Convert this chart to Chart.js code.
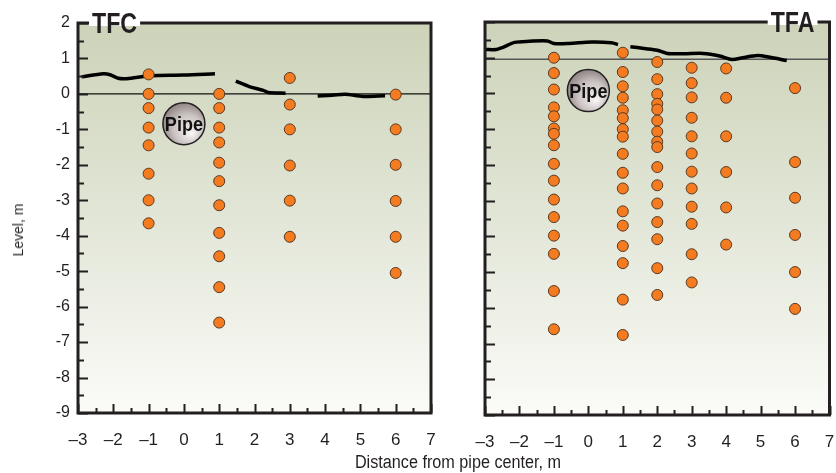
<!DOCTYPE html>
<html>
<head>
<meta charset="utf-8">
<script src="https://cdn.jsdelivr.net/npm/chart.js@4/dist/chart.umd.min.js"></script>
<style>
  html, body { margin: 0; padding: 0; background: #fff; }
  #wrap { position: relative; width: 836px; height: 473px; overflow: hidden; }
  #tfc { position: absolute; left: 0; top: 0; }
  #tfa { position: absolute; left: 440px; top: 0; }
  #xtitle {
    position: absolute; left: 458px; top: 462px; transform: translate(-50%, -50%) scaleX(0.9);
    font: 18px "Liberation Sans", Arial, sans-serif; color: #231f20; white-space: nowrap;
  }
  #ytitle {
    position: absolute; left: 18px; top: 230px; transform: translate(-50%, -50%) rotate(-90deg);
    font: 14px "Liberation Sans", Arial, sans-serif; color: #231f20; white-space: nowrap;
  }
</style>
</head>
<body>
<div id="wrap">
  <canvas id="tfc" width="450" height="473"></canvas>
  <canvas id="tfa" width="396" height="473"></canvas>
  <div id="ytitle">Level, m</div>
  <div id="xtitle">Distance from pipe center, m</div>
</div>
<script>
// --- data ---
const xTickLabels = ['\u20133', '\u20132', '\u20131', '0', '1', '2', '3', '4', '5', '6', '7'];
const yTickLabels = ['2', '1', '0', '-1', '-2', '-3', '-4', '-5', '-6', '-7', '-8', '-9'];

// TFC sensor columns (distance, m) and levels (m)
const tfcCols = [-1, 1, 3, 6];
const tfcLevels = [
  [0.55, 0, -0.4, -0.95, -1.45, -2.25, -3.0, -3.65],
  [0, -0.4, -0.95, -1.37, -1.94, -2.46, -3.14, -3.92, -4.58, -5.45, -6.45],
  [0.45, -0.3, -1.0, -2.02, -3.01, -4.03],
  [-0.02, -1.0, -2.0, -3.02, -4.03, -5.05]
];
// TFC water table segments
const tfcWaterX = [
  [-2.9, -2.28, -2.09, -1.86, -1.62, -0.96, 0, 0.88],
  [1.47, 1.87, 2.25, 2.39, 2.88],
  [3.79, 4.2, 4.56, 5.08, 5.7]
];
const tfcWaterY = [
  [0.48, 0.57, 0.54, 0.44, 0.43, 0.51, 0.53, 0.57],
  [0.36, 0.2, 0.1, 0.04, 0.02],
  [-0.06, -0.04, -0.01, -0.07, -0.05]
];
const tfcRefLevel = 0;
const tfcPipe = [0, -0.84];

// TFA sensor columns and levels
const tfaCols = [-1, 1, 2, 3, 4, 6];
const tfaLevels = [
  [1.0, 0.57, 0.11, -0.39, -0.64, -0.98, -1.13, -1.45, -1.97, -2.44, -2.97, -3.46, -3.98, -4.49, -5.53, -6.6],
  [1.14, 0.6, 0.2, -0.12, -0.47, -0.69, -1.0, -1.21, -1.69, -2.22, -2.66, -3.3, -3.7, -4.27, -4.75, -5.77, -6.76],
  [0.88, 0.4, -0.02, -0.29, -0.45, -0.76, -1.07, -1.35, -1.5, -2.06, -2.57, -3.08, -3.6, -4.08, -4.89, -5.64],
  [0.72, 0.29, -0.11, -0.68, -1.2, -1.68, -2.19, -2.66, -3.17, -3.65, -4.5, -5.29],
  [0.7, -0.12, -1.2, -2.2, -3.19, -4.23],
  [0.15, -1.92, -2.92, -3.96, -5.0, -6.03]
];
const tfaWaterX = [
  [-3, -2.67, -2.48, -2.14, -1.71, -1.19, -1.0, -0.57, 0.09, 0.67, 0.86],
  [1.22, 1.62, 2.0, 2.29, 2.76, 3.33, 3.81, 4.17, 4.48, 4.91, 5.24, 5.76]
];
const tfaWaterY = [
  [1.23, 1.23, 1.29, 1.43, 1.46, 1.47, 1.4, 1.4, 1.44, 1.42, 1.37],
  [1.31, 1.26, 1.21, 1.12, 1.11, 1.12, 1.05, 0.95, 1.0, 1.06, 1.02, 0.92]
];
const tfaRefLevel = 0.96;
const tfaPipe = [0, 0.08];

const INK = '#231f20';
const SANS = '"Liberation Sans", Arial, sans-serif';

function buildDatasets(cols, levels, wx, wy) {
  const pts = [];
  cols.forEach((c, i) => levels[i].forEach(v => pts.push({ x: c, y: v })));
  const sets = [{
    data: pts,
    pointRadius: 5.5,
    pointBackgroundColor: '#f47b20',
    pointBorderColor: '#5b3a20',
    pointBorderWidth: 1,
    showLine: false,
    order: 0
  }];
  wx.forEach((xs, i) => {
    sets.push({
      data: xs.map((x, j) => ({ x: x, y: wy[i][j] })),
      showLine: true,
      borderColor: '#000',
      borderWidth: 3.5,
      pointRadius: 0,
      tension: 0.3,
      order: 1
    });
  });
  return sets;
}

// draws condensed text by squeezing it horizontally
function narrowText(ctx, text, x, y, squeeze) {
  ctx.save();
  ctx.translate(x, y);
  ctx.scale(squeeze, 1);
  ctx.fillText(text, 0, 0);
  ctx.restore();
}

// background, reference line, pipe, frame, inward ticks, panel title
const panelPlugin = {
  id: 'panel',
  beforeDatasetsDraw(chart) {
    const { ctx, chartArea: a, scales: { x, y } } = chart;
    const o = chart.options.plugins.panel;
    const g = ctx.createLinearGradient(0, a.top, 0, a.bottom);
    g.addColorStop(0, '#cdd3b9');
    g.addColorStop(0.5, '#e2e6d7');
    g.addColorStop(1, '#fbfbf8');
    ctx.save();
    ctx.fillStyle = g;
    ctx.fillRect(a.left, a.top, a.right - a.left, a.bottom - a.top);
    const ry = y.getPixelForValue(o.ref);
    ctx.strokeStyle = o.refColor;
    ctx.lineWidth = o.refWidth;
    ctx.beginPath();
    ctx.moveTo(a.left, ry);
    ctx.lineTo(a.right, ry);
    ctx.stroke();
    ctx.restore();
  },
  afterDatasetsDraw(chart) {
    const { ctx, chartArea: a, scales: { x, y } } = chart;
    const o = chart.options.plugins.panel;
    ctx.save();
    // pipe
    const cx = x.getPixelForValue(o.pipe[0]), cy = y.getPixelForValue(o.pipe[1]), r = 21;
    const rg = ctx.createRadialGradient(cx + 8, cy + 10, 1, cx + 2, cy + 3, r + 3);
    rg.addColorStop(0, '#f7f3f3');
    rg.addColorStop(0.6, '#cbc3c2');
    rg.addColorStop(1, '#8e8584');
    ctx.fillStyle = rg;
    ctx.strokeStyle = INK;
    ctx.lineWidth = 1.5;
    ctx.beginPath();
    ctx.arc(cx, cy, r, 0, Math.PI * 2);
    ctx.fill();
    ctx.stroke();
    ctx.fillStyle = '#111';
    ctx.font = 'bold 21px ' + SANS;
    ctx.textAlign = 'left';
    ctx.textBaseline = 'alphabetic';
    const pw = ctx.measureText('Pipe').width * 0.86;
    narrowText(ctx, 'Pipe', cx - pw / 2, cy + 7, 0.86);

    // inward ticks
    ctx.strokeStyle = INK;
    ctx.lineWidth = 2;
    ctx.beginPath();
    for (let v = y.min; v <= y.max; v += 0.5) {
      const py = Math.round(y.getPixelForValue(v)) + 0.5;
      const len = Number.isInteger(v) ? 10 : 6;
      ctx.moveTo(a.left, py);
      ctx.lineTo(a.left + len, py);
    }
    for (let v = x.min; v <= x.max; v += 0.5) {
      const px = Math.round(x.getPixelForValue(v)) + 0.5;
      const len = Number.isInteger(v) ? 9 : 5;
      ctx.moveTo(px, a.bottom);
      ctx.lineTo(px, a.bottom - len);
    }
    ctx.stroke();

    // frame
    ctx.lineWidth = 3;
    ctx.strokeRect(a.left, a.top, a.right - a.left, a.bottom - a.top);

    // title over the top border
    ctx.font = 'bold 29px ' + SANS;
    const sq = 0.8;
    const w = ctx.measureText(o.title).width * sq;
    const tx = o.titleSide === 'left' ? a.left + 14 : a.right - 15 - w;
    ctx.fillStyle = '#fff';
    ctx.fillRect(tx - 3, a.top - 3, w + 6, 6);
    ctx.fillStyle = INK;
    narrowText(ctx, o.title, tx, a.top + 10, sq);
    ctx.restore();
  }
};

function makeChart(id, datasets, opts) {
  return new Chart(document.getElementById(id), {
    type: 'scatter',
    data: { datasets: datasets },
    plugins: [panelPlugin],
    options: {
      responsive: false,
      animation: false,
      events: [],
      layout: { padding: { top: opts.top, right: opts.right, left: 0, bottom: 0 } },
      plugins: {
        legend: { display: false },
        tooltip: { enabled: false },
        panel: opts.panel
      },
      scales: {
        x: {
          type: 'linear', min: -3, max: 7,
          grid: { display: false, drawTicks: false },
          border: { display: false },
          ticks: {
            stepSize: 1, autoSkip: false, padding: 17,
            color: INK, font: { family: SANS, size: 17 },
            callback: (v, i) => xTickLabels[i]
          },
          afterFit(s) { s.height = opts.xh; s.paddingLeft = 0; s.paddingRight = 0; }
        },
        y: {
          type: 'linear', min: -9, max: 2,
          grid: { display: false, drawTicks: false },
          border: { display: false },
          ticks: {
            display: opts.yLabels, stepSize: 1, autoSkip: false, padding: 8,
            color: INK, font: { family: SANS, size: 16 },
            callback: (v, i, t) => yTickLabels[t.length - 1 - i]
          },
          afterFit(s) { s.width = opts.yw; s.paddingTop = 0; s.paddingBottom = 0; }
        }
      }
    }
  });
}

makeChart('tfc', buildDatasets(tfcCols, tfcLevels, tfcWaterX, tfcWaterY), {
  top: 23, right: 19, xh: 60, yw: 78, yLabels: true,
  panel: { ref: tfcRefLevel, refColor: '#111', refWidth: 1.2, pipe: tfcPipe, title: 'TFC', titleSide: 'left' }
});
makeChart('tfa', buildDatasets(tfaCols, tfaLevels, tfaWaterX, tfaWaterY), {
  top: 22, right: 3, xh: 58, yw: 45, yLabels: false,
  panel: { ref: tfaRefLevel, refColor: '#555', refWidth: 1.5, pipe: tfaPipe, title: 'TFA', titleSide: 'right' }
});
</script>
</body>
</html>
